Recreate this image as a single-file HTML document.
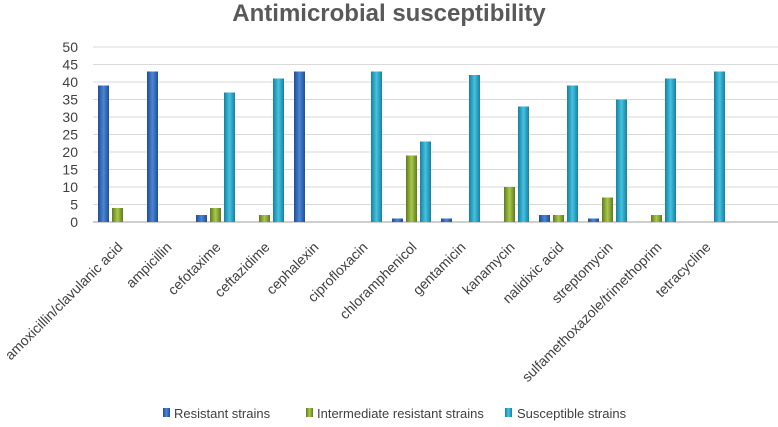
<!DOCTYPE html>
<html><head><meta charset="utf-8"><style>
body{margin:0;background:#fff;font-family:"Liberation Sans",sans-serif}
svg text{font-family:"Liberation Sans",sans-serif;fill:#404040}
</style></head><body>
<svg width="778" height="422">
<defs>
<linearGradient id="gR" x1="0" x2="1"><stop offset="0" stop-color="#1f4e94"/><stop offset="0.5" stop-color="#4a86d6"/><stop offset="1" stop-color="#1f4e94"/></linearGradient>
<linearGradient id="gI" x1="0" x2="1"><stop offset="0" stop-color="#5f7a1f"/><stop offset="0.5" stop-color="#a9c94a"/><stop offset="1" stop-color="#5f7a1f"/></linearGradient>
<linearGradient id="gS" x1="0" x2="1"><stop offset="0" stop-color="#17809e"/><stop offset="0.5" stop-color="#45c2e2"/><stop offset="1" stop-color="#17809e"/></linearGradient>
</defs>
<text x="389" y="21" text-anchor="middle" font-size="24" font-weight="bold" style="fill:#595959">Antimicrobial susceptibility</text>
<g id="grid"></g><g id="bars"></g><g id="xl"></g>
<g font-size="13">
<rect x="163" y="408" width="7" height="9" fill="url(#gR)"/><text x="174" y="418">Resistant strains</text>
<rect x="306" y="408" width="7" height="9" fill="url(#gI)"/><text x="317" y="418">Intermediate resistant strains</text>
<rect x="505" y="408" width="7" height="9" fill="url(#gS)"/><text x="517" y="418">Susceptible strains</text>
</g>
</svg>
<script>
const categories=["amoxicillin/clavulanic acid","ampicillin","cefotaxime","ceftazidime","cephalexin","ciprofloxacin","chloramphenicol","gentamicin","kanamycin","nalidixic acid","streptomycin","sulfamethoxazole/trimethoprim","tetracycline"];
const resistant=[39,43,2,0,43,0,1,1,0,2,1,0,0];
const intermediate=[4,0,4,2,0,0,19,0,10,2,7,2,0];
const susceptible=[0,0,37,41,0,43,23,42,33,39,35,41,43];
const ticks=[0,5,10,15,20,25,30,35,40,45,50];
const NS="http://www.w3.org/2000/svg";
const y0=222,yTop=47,x0=93,cw=49;
const y=v=>y0-(v/50)*(y0-yTop);
const xc=i=>x0+cw*(i+0.5);
const grid=document.getElementById('grid'),bars=document.getElementById('bars'),xl=document.getElementById('xl');
ticks.forEach(t=>{
 const l=document.createElementNS(NS,'line');
 
 
 l.setAttribute('x1',x0);l.setAttribute('x2',778);l.setAttribute('y1',y(t));l.setAttribute('y2',y(t));
 l.setAttribute('stroke',t===0?'#bfbfbf':'#d9d9d9');l.setAttribute('stroke-width',t===0?1.5:1);
 grid.appendChild(l);
 const tx=document.createElementNS(NS,'text');
 
 
 tx.setAttribute('x',78);tx.setAttribute('y',y(t)+5);tx.setAttribute('text-anchor','end');tx.setAttribute('font-size','14');
 tx.textContent=t;grid.appendChild(tx);
});
const series=[[resistant,'url(#gR)',-14],[intermediate,'url(#gI)',0],[susceptible,'url(#gS)',14]];
categories.forEach((c,i)=>{
 series.forEach(([arr,fill,off])=>{
  const v=arr[i];if(!v)return;
  const r=document.createElementNS(NS,'rect');
  
  
  r.setAttribute('x',xc(i)+off-5.5);r.setAttribute('width',11);
  r.setAttribute('y',y(v));r.setAttribute('height',y0-y(v));r.setAttribute('fill',fill);
  bars.appendChild(r);
 });
 const t=document.createElementNS(NS,'text');
 
 
 const ax=xc(i)+6,ay=248;
 t.setAttribute('x',ax);t.setAttribute('y',ay);t.setAttribute('text-anchor','end');t.setAttribute('font-size','14');
 t.setAttribute('transform','rotate(-45 '+ax+' '+ay+')');
 t.textContent=c;xl.appendChild(t);
});
</script>
</body></html>
